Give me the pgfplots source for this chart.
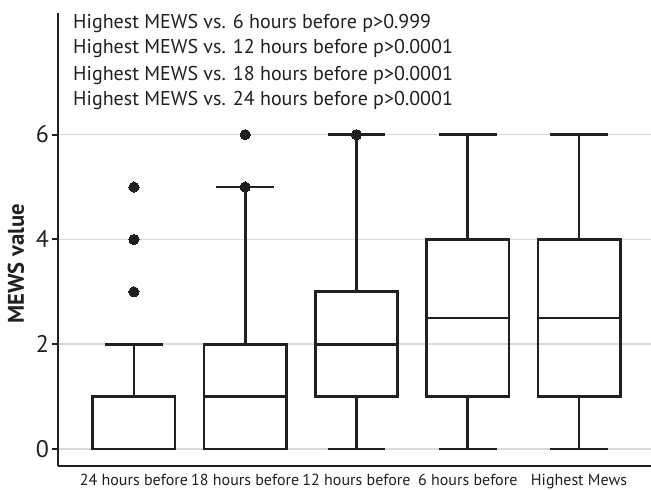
\documentclass[border=0pt]{standalone}
\usepackage{pgfplots}
\pgfplotsset{compat=1.18}
\usepgfplotslibrary{statistics}
\usepackage{fontspec}
\setmainfont{PT Sans}
\definecolor{ink}{HTML}{231F20}
\definecolor{gridgray}{HTML}{D9D9D9}

\begin{document}
\begin{tikzpicture}
\path[use as bounding box] (-43.7pt,-17.25pt) rectangle (444.5pt,349.5pt);
\begin{axis}[
  at={(0,0)}, anchor=south west,
  scale only axis,
  width=444.5pt, height=339.75pt,
  xmin=0.32, xmax=5.647,
  ymin=-0.324, ymax=8.32,
  axis lines*=left,
  axis line style={ink, line width=1.5pt},
  xtick={1,2,3,4,5},
  xticklabels={24 hours before,18 hours before,12 hours before,6 hours before,Highest Mews},
  x tick style={draw=none},
  ytick={0,2,4,6},
  y tick style={ink, line width=1.5pt},
  tick align=outside,
  major tick length=4.5pt,
  ymajorgrids,
  grid style={gridgray, line width=1.3pt},
  /pgf/number format/assume math mode=true,
  yticklabel style={font=\fontsize{18}{18}\selectfont, text=ink, xshift=1pt},
  xticklabel style={font=\fontsize{12}{12}\selectfont, text=ink, anchor=base, inner sep=0pt, yshift=-10pt},
  boxplot/draw direction=y,
  boxplot/box extend=0.74,
  boxplot/whisker extend=0.52,
  clip=false,
]
% 24 hours before
\addplot+[ink, solid, line width=2pt, mark=*, mark size=3.8pt, mark options={fill=ink, draw=ink, line width=0pt},
  boxplot prepared={draw position=1, lower whisker=0, lower quartile=0, median=0, upper quartile=1, upper whisker=2}]
  table[row sep=\\, y index=0]{3\\4\\5\\};
% 18 hours before
\addplot+[ink, solid, line width=2pt, mark=*, mark size=3.8pt, mark options={fill=ink, draw=ink, line width=0pt},
  boxplot prepared={draw position=2, lower whisker=0, lower quartile=0, median=1, upper quartile=2, upper whisker=5}]
  table[row sep=\\, y index=0]{5\\6\\};
% 12 hours before
\addplot+[ink, solid, line width=2pt, mark=*, mark size=3.8pt, mark options={fill=ink, draw=ink, line width=0pt},
  boxplot prepared={draw position=3, lower whisker=0, lower quartile=1, median=2, upper quartile=3, upper whisker=6}]
  table[row sep=\\, y index=0]{6\\};
% 6 hours before
\addplot+[ink, solid, line width=2pt,
  boxplot prepared={draw position=4, lower whisker=0, lower quartile=1, median=2.5, upper quartile=4, upper whisker=6}]
  coordinates {};
% Highest Mews
\addplot+[ink, solid, line width=2pt,
  boxplot prepared={draw position=5, lower whisker=0, lower quartile=1, median=2.5, upper quartile=4, upper whisker=6}]
  coordinates {};

% y axis title
\node[rotate=90, font=\fontsize{17}{17}\selectfont\bfseries, text=ink] at (axis cs:-0.06,3.53) {MEWS value};

% comparison notes
\node[anchor=base west, inner sep=0pt, font=\fontsize{15}{15}\selectfont, text=ink] at (axis cs:0.452,8.03) {Highest MEWS vs. 6 hours before p>0.999};
\node[anchor=base west, inner sep=0pt, font=\fontsize{15}{15}\selectfont, text=ink] at (axis cs:0.452,7.54) {Highest MEWS vs. 12 hours before p>0.0001};
\node[anchor=base west, inner sep=0pt, font=\fontsize{15}{15}\selectfont, text=ink] at (axis cs:0.452,7.04) {Highest MEWS vs. 18 hours before p>0.0001};
\node[anchor=base west, inner sep=0pt, font=\fontsize{15}{15}\selectfont, text=ink] at (axis cs:0.452,6.55) {Highest MEWS vs. 24 hours before p>0.0001};
\end{axis}
\end{tikzpicture}
\end{document}
